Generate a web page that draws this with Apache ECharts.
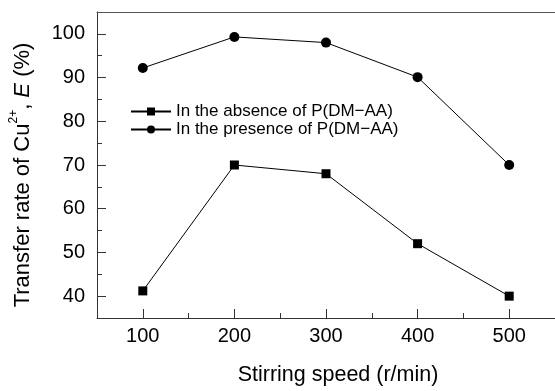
<!DOCTYPE html>
<html>
<head>
<meta charset="utf-8">
<script src="https://cdn.jsdelivr.net/npm/echarts@6/dist/echarts.min.js"></script>
<style>
  html, body { margin: 0; padding: 0; background: #fff; }
  #chart { width: 555px; height: 391px; }
</style>
</head>
<body>
<div id="chart"></div>
<script>
// stirring speed (r/min)
const speeds = [100, 200, 300, 400, 500];
// transfer rate E (%)
const absence = [41.2, 70, 68, 52, 40];
const presence = [92.2, 99.3, 98, 90.1, 70];

const xMajor = [100, 200, 300, 400, 500];
const xMinor = [150, 250, 350, 450];
const yMajor = [40, 50, 60, 70, 80, 90, 100];
const yMinor = [45, 55, 65, 75, 85, 95];

const FONT = "'Liberation Sans', Arial, sans-serif";
const axisColor = "#333";

const chart = echarts.init(document.getElementById("chart"));

const xRange = { type: "value", min: 50, max: 550 };
const yRange = { type: "value", min: 35, max: 105 };

const option = {
  animation: false,
  textStyle: { fontFamily: FONT },
  grid: { left: 97, top: 12, right: -3, bottom: 72 },
  legend: {
    orient: "vertical",
    left: 125,
    top: 98,
    itemWidth: 40,
    itemHeight: 10,
    itemGap: 1,
    textStyle: { fontFamily: FONT, fontSize: 17, color: "#000", lineHeight: 17 },
    data: ["In the absence of P(DM\u2212AA)", "In the presence of P(DM\u2212AA)"],
  },
  xAxis: [
    {
      ...xRange,
      position: "bottom",
      name: "Stirring speed (r/min)",
      nameLocation: "middle",
      nameGap: 46,
      nameTextStyle: { fontFamily: FONT, fontSize: 21.5, color: "#000", padding: [0, 0, 0, 24] },
      axisLine: { show: true, onZero: false, lineStyle: { color: axisColor, width: 1 } },
      axisTick: { show: true, inside: true, length: 9, customValues: xMajor, lineStyle: { color: axisColor } },
      axisLabel: { customValues: xMajor, fontFamily: FONT, fontSize: 20, color: "#000", margin: 8 },
      splitLine: { show: false },
    },
    {
      ...xRange,
      position: "bottom",
      axisLine: { show: false },
      axisTick: { show: true, inside: true, length: 5, customValues: xMinor, lineStyle: { color: axisColor } },
      axisLabel: { show: false },
      splitLine: { show: false },
    },
    {
      ...xRange,
      position: "top",
      axisLine: { show: true, onZero: false, lineStyle: { color: "#555", width: 1 } },
      axisTick: { show: false },
      axisLabel: { show: false },
      splitLine: { show: false },
    },
  ],
  yAxis: [
    {
      ...yRange,
      position: "left",
      name: "{t|Transfer rate of Cu}{s|2+}{t|, }{i|E}{t| (%)}",
      nameLocation: "middle",
      nameRotate: 90,
      nameGap: 63,
      nameTextStyle: {
        fontFamily: FONT,
        color: "#000",
        padding: [0, 20, 0, 0],
        rich: {
          t: { fontFamily: FONT, fontSize: 22, color: "#000", lineHeight: 26, verticalAlign: "bottom" },
          s: { fontFamily: FONT, fontSize: 12, color: "#000", lineHeight: 26, verticalAlign: "top" },
          i: { fontFamily: FONT, fontSize: 22, fontStyle: "italic", color: "#000", lineHeight: 26, verticalAlign: "bottom" },
        },
      },
      axisLine: { show: true, onZero: false, lineStyle: { color: axisColor, width: 1 } },
      axisTick: { show: true, inside: true, length: 9, customValues: yMajor, lineStyle: { color: axisColor } },
      axisLabel: { customValues: yMajor, fontFamily: FONT, fontSize: 20, color: "#000", margin: 12 },
      splitLine: { show: false },
    },
    {
      ...yRange,
      position: "left",
      axisLine: { show: false },
      axisTick: { show: true, inside: true, length: 5, customValues: yMinor, lineStyle: { color: axisColor } },
      axisLabel: { show: false },
      splitLine: { show: false },
    },
  ],
  series: [
    {
      name: "In the absence of P(DM\u2212AA)",
      type: "line",
      data: speeds.map((s, i) => [s, absence[i]]),
      symbol: "rect",
      symbolSize: 9,
      lineStyle: { color: "#000", width: 1 },
      itemStyle: { color: "#000" },
    },
    {
      name: "In the presence of P(DM\u2212AA)",
      type: "line",
      data: speeds.map((s, i) => [s, presence[i]]),
      symbol: "circle",
      symbolSize: 10,
      lineStyle: { color: "#000", width: 1 },
      itemStyle: { color: "#000" },
    },
  ],
};

chart.setOption(option);
</script>
</body>
</html>
